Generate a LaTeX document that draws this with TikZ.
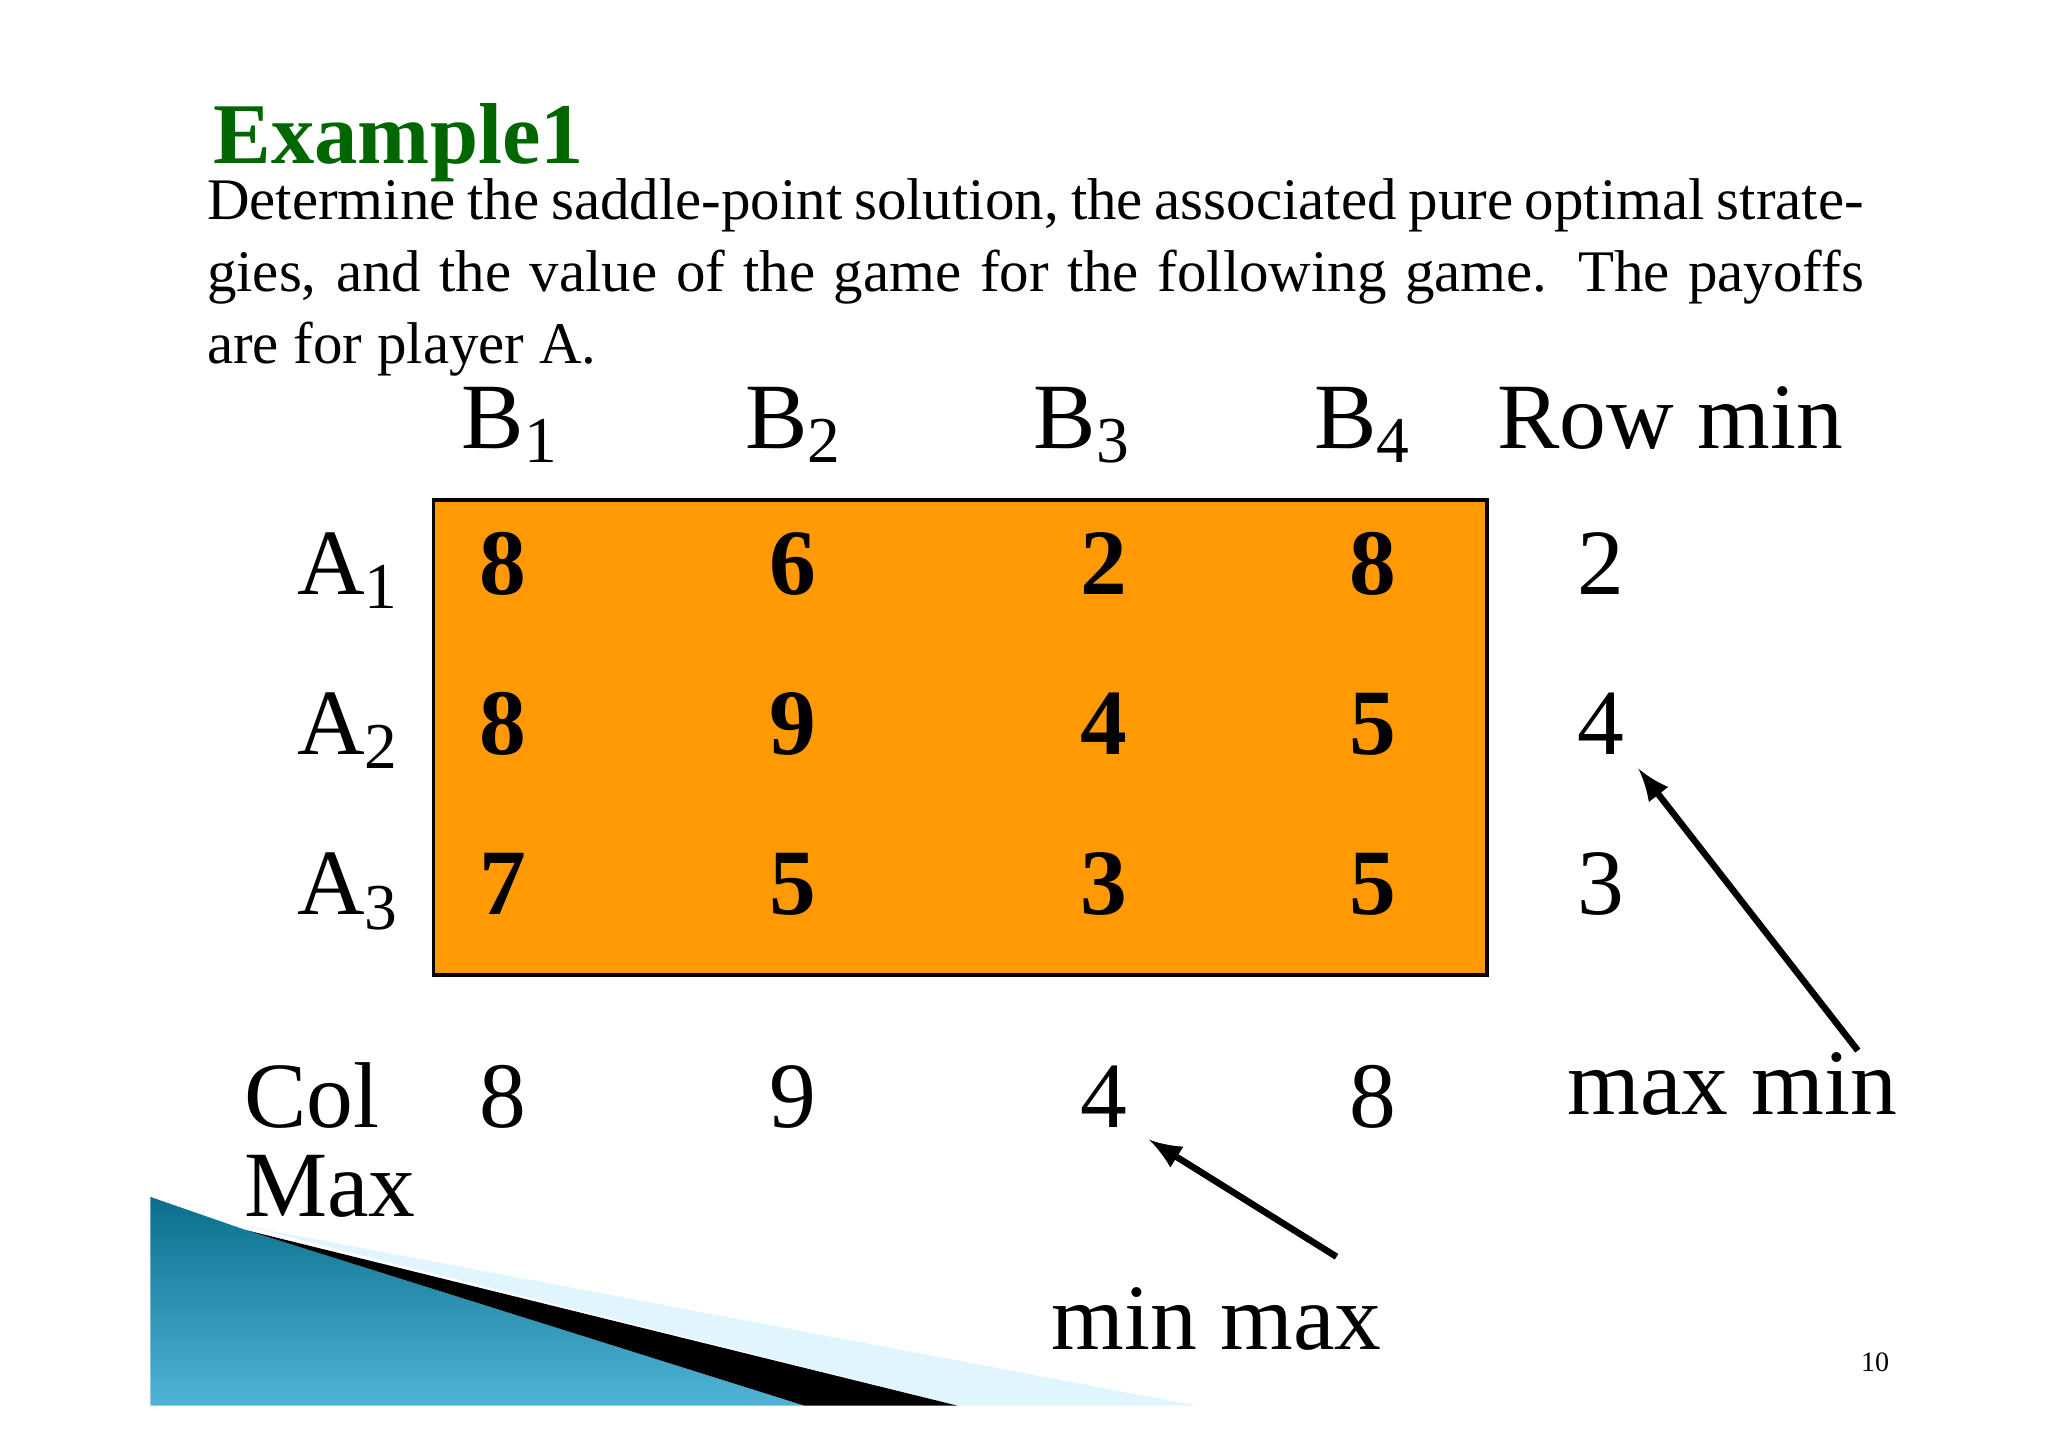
\documentclass[tikz,border=0pt]{standalone}
\usepackage{fontspec}
\setmainfont{Liberation Serif}
\begin{document}
\begin{tikzpicture}[x=0.01cm,y=-0.01cm,
  big/.style={font=\fontsize{20}{24}\selectfont,anchor=base,inner sep=0pt},
  num/.style={big,font=\fontsize{20}{24}\selectfont\bfseries},
  arr/.style={-latex,line width=1.4pt}]
\useasboundingbox (0,0) rectangle (1540,1089);
% decoration
\shade[left color={rgb,255:red,10;green,110;blue,140}, right color={rgb,255:red,80;green,180;blue,215}, shading angle=0]
  (113,900) -- (185,925) -- (605,1057) -- (113,1057) -- cycle;
\fill[cyan!12!white] (185,922) -- (900,1057) -- (720,1057) -- cycle;
\fill[black] (185,925) -- (720,1057) -- (605,1057) -- cycle;
% title & text
\node[anchor=base west,inner sep=0pt,text=green!40!black,font=\fontsize{18.5}{20}\selectfont\bfseries] (t) at (160,123) {Example1};
\node[anchor=base west,inner sep=0pt,text width=12.45cm,align=justify,font=\fontsize{12.6}{15.4}\selectfont] (p) at (155,165)
 {Determine the saddle-point solution, the associated pure optimal strategies, and the value of the game for the following game. The payoffs are for player A.};
% table
\fill[color={rgb,255:red,255;green,154;blue,5}] (326,376) rectangle (1118,733);
\draw[line width=0.8pt] (326,376) rectangle (1118,733);
\foreach \x/\i in {384/1,597/2,814/3,1025/4}
  \node[big] (b\i) at (\x,337) {B$_{\mathrm{\i}}$};
\node[big] (rm) at (1256,337) {Row min};
\foreach \y/\i in {447/1,567/2,688/3}
  \node[big] (a\i) at (262,\y) {A$_{\mathrm{\i}}$};
\foreach \y/\i/\a/\b/\c/\d/\m in {447/1/8/6/2/8/2,567/2/8/9/4/5/4,688/3/7/5/3/5/3}{
  \node[num] (n\i1) at (378,\y) {\a};
  \node[num] (n\i2) at (596,\y) {\b};
  \node[num] (n\i3) at (830,\y) {\c};
  \node[num] (n\i4) at (1032,\y) {\d};
  \node[big] (m\i) at (1204,\y) {\m};
}
\node[big,anchor=base west] (col) at (183,848) {Col};
\node[big,anchor=base west] (max) at (183,915) {Max};
\node[big] (c1) at (378,848) {8};
\node[big] (c2) at (596,848) {9};
\node[big] (c3) at (830,848) {4};
\node[big] (c4) at (1032,848) {8};
\node[big,anchor=base west] (mm) at (1178,838) {max min};
\node[big,anchor=base west] (nm) at (790,1015) {min max};
\node[anchor=base,font=\fontsize{6}{7}\selectfont] (pg) at (1410,1031) {10};
\coordinate (e1) at (1397,790);
\coordinate (e2) at (1005,945);
\coordinate (t1) at (1232,578);
\coordinate (t2) at (864,857);
\draw[arr] (e1) -- (t1);
\draw[arr] (e2) -- (t2);
\end{tikzpicture}
\end{document}
